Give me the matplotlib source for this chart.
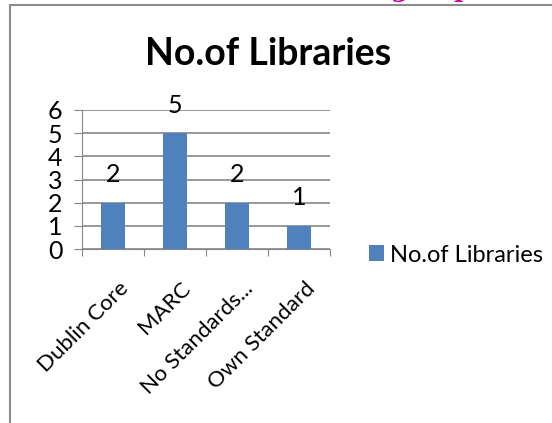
import matplotlib.pyplot as plt
from matplotlib.lines import Line2D

categorias = ["Dublin Core", "MARC", "No Standards...", "Own Standard"]
valores = [2, 5, 2, 1]
serie = "No.of Libraries"

plt.rcParams['font.family'] = ['Lato', 'DejaVu Sans']

fig = plt.figure(figsize=(5.52, 4.23), dpi=100)
ax = fig.add_axes([0.1486, 0.411, 0.449, 0.329])

x = range(len(categorias))
barras = ax.bar(x, valores, width=0.39, color="#4F81BD", label=serie, zorder=3)

for xi, v in zip(x, valores):
    ax.annotate(str(v), (xi, v), xytext=(0, 12), textcoords="offset points",
                ha="center", va="bottom", fontsize=18)

ax.set_xlim(-0.5, len(categorias) - 0.5)
ax.set_ylim(0, 6)
ax.set_yticks(range(7))
ax.yaxis.grid(True, color="#868686", linewidth=1.2, zorder=0)
ax.tick_params(axis="y", length=6, color="#868686", labelsize=18, pad=8)

# ticks del eje x en los limites de cada categoria
ax.set_xticks([i - 0.5 for i in range(len(categorias) + 1)])
ax.set_xticklabels([])
ax.tick_params(axis="x", length=5, color="#868686")
for xi, c in zip(x, categorias):
    ax.annotate(c, (xi, 0), xytext=(4, -21), textcoords="offset points",
                rotation=45, rotation_mode="anchor", ha="right", va="top",
                fontsize=16)

for s in ["top", "right"]:
    ax.spines[s].set_visible(False)
ax.spines["left"].set_color("#868686")
ax.spines["bottom"].set_color("#868686")

fig.legend(handles=[barras], labels=[serie], loc="center left",
           bbox_to_anchor=(369 / 552, 0.397), frameon=False, fontsize=17,
           borderpad=0, borderaxespad=0,
           handlelength=0.65, handleheight=0.65, handletextpad=0.25)

fig.text(0.485, 0.872, "No.of Libraries", ha="center", va="center",
         fontsize=27, fontweight="bold")

# borde del grafico
fig.add_artist(Line2D([10 / 552, 1], [1 - 5 / 423] * 2, transform=fig.transFigure,
                      color="#8c8c8c", linewidth=1.5))
fig.add_artist(Line2D([10 / 552] * 2, [0, 1 - 5 / 423], transform=fig.transFigure,
                      color="#8c8c8c", linewidth=1.5))

# texto cortado en la parte superior
fig.text(400 / 552, 1 + 3 / 423, "g", color="#CC0099", fontsize=18, fontweight="bold",
         family="DejaVu Serif", ha="center", va="baseline")
fig.text(462 / 552, 1 + 3 / 423, "p", color="#CC0099", fontsize=18, fontweight="bold",
         family="DejaVu Serif", ha="center", va="baseline")

plt.savefig("out.png")
